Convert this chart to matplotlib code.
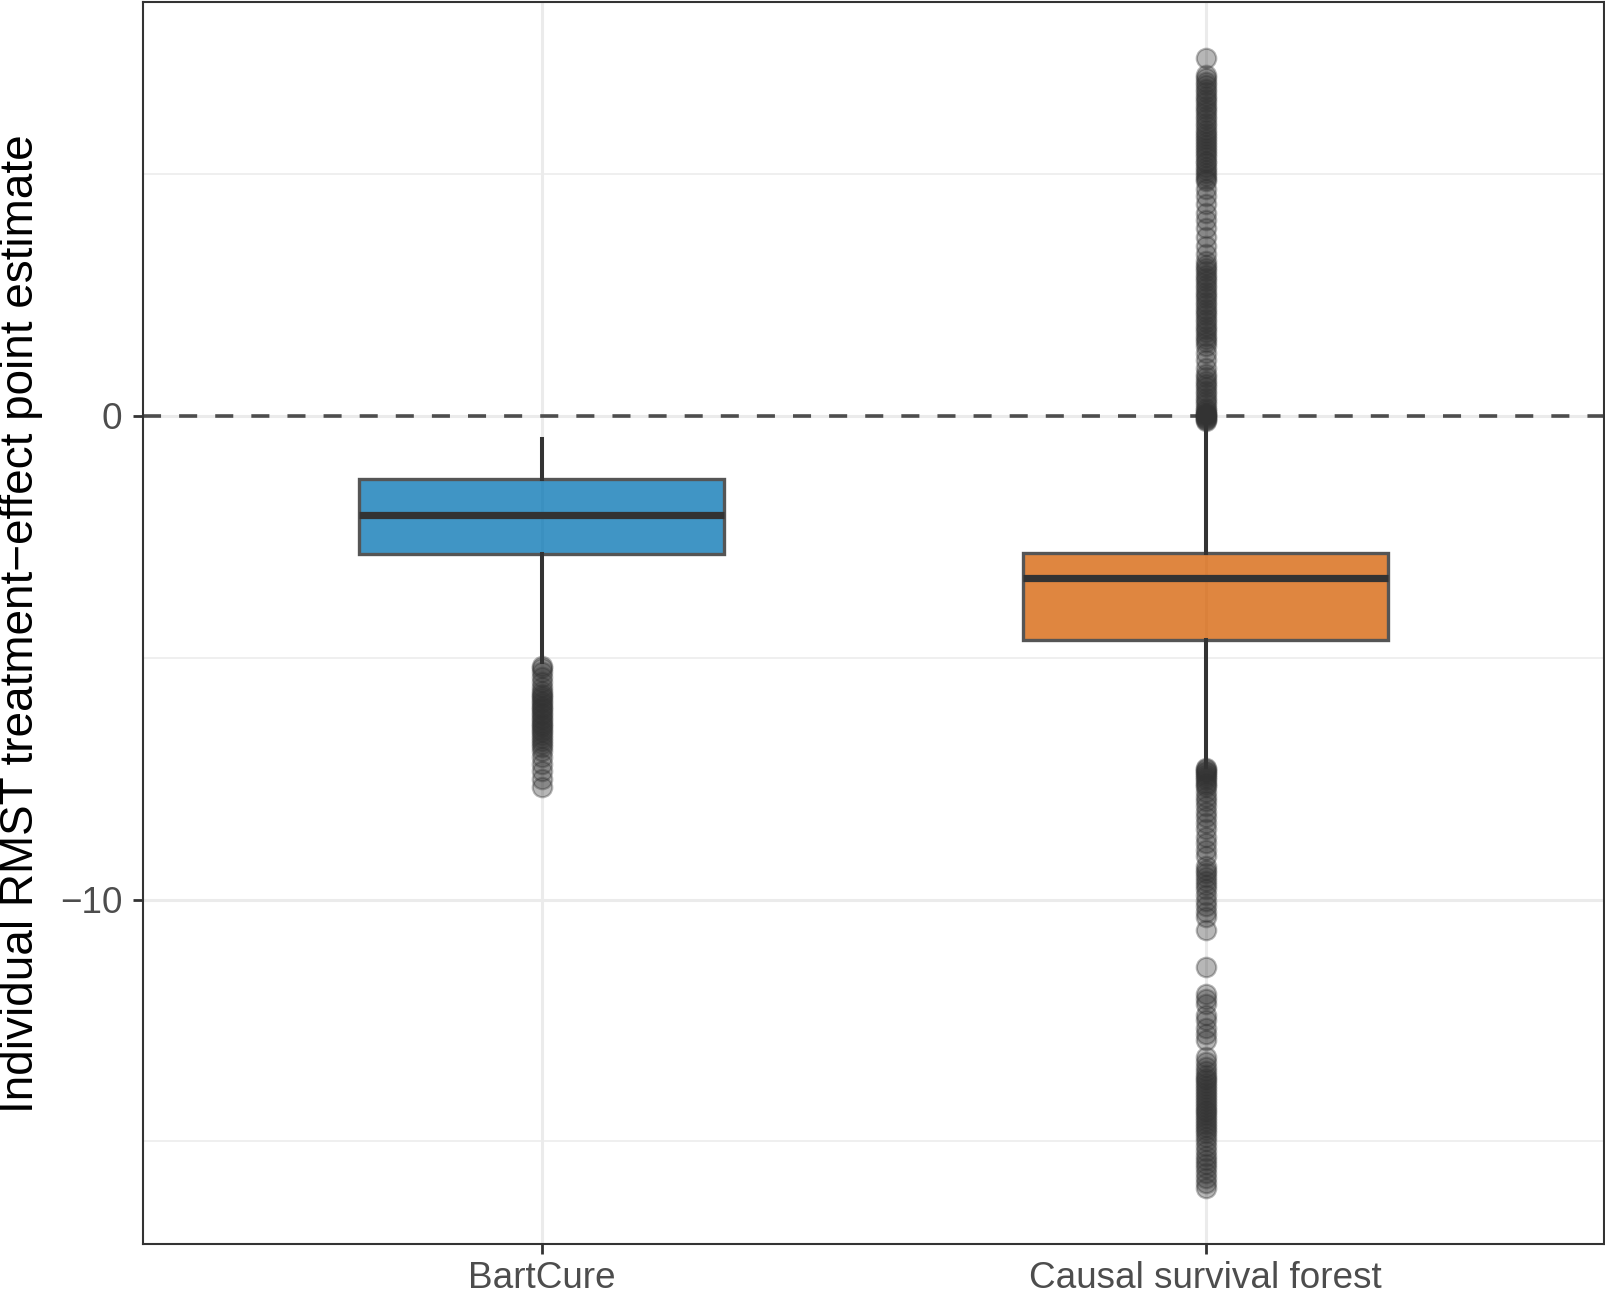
import matplotlib
matplotlib.use("Agg")
from matplotlib import pyplot as plt
from matplotlib.ticker import FixedLocator

plt.rcParams['font.family'] = ['Liberation Sans', 'DejaVu Sans']

methods = ["BartCure", "Causal survival forest"]
box_colors = ["#0072B2", "#D55E00"]

# box summaries
q1 = [-2.85, -4.63]
med = [-2.05, -3.36]
q3 = [-1.31, -2.83]
whis_lo = [-5.08, -7.25]
whis_hi = [-0.47, -0.15]

# outliers, estimated from the point columns
bart_out = [-5.16, -5.22, -5.3, -5.4, -5.5, -5.6, -5.69, -5.74, -5.79, -5.84,
            -5.89, -5.94, -5.99, -6.04, -6.09, -6.14, -6.19, -6.24, -6.29,
            -6.34, -6.39, -6.44, -6.49, -6.54, -6.6, -6.66, -6.72, -6.78,
            -6.85, -6.92, -7.05, -7.2, -7.35, -7.5, -7.67]

csf_out_hi = [7.40,
              7.05, 6.98, 6.9, 6.84, 6.77, 6.7, 6.62, 6.55, 6.49, 6.41, 6.35,
              6.28, 6.2, 6.14, 6.06, 5.99, 5.92, 5.85, 5.79, 5.72, 5.67,
              5.6, 5.54, 5.47, 5.41, 5.35, 5.28, 5.22, 5.15, 5.09, 5.02, 4.96,
              4.9, 4.85,
              4.7, 4.55, 4.38, 4.2, 4.05, 3.88, 3.7, 3.52, 3.35,
              3.2, 3.13, 3.06, 2.99, 2.92, 2.85, 2.78, 2.71, 2.64, 2.57, 2.5,
              2.43, 2.36, 2.29, 2.22, 2.15, 2.08, 2.01, 1.94, 1.87, 1.8, 1.73,
              1.66, 1.59, 1.52, 1.45,
              1.3, 1.15, 1.0,
              0.87, 0.8, 0.73, 0.66, 0.59, 0.52, 0.45, 0.38, 0.31, 0.24, 0.17,
              0.12, 0.08, 0.05, 0.03, 0.01, -0.01, -0.03, -0.05, -0.07, -0.09,
              -0.11]

csf_out_lo = [-7.28, -7.31, -7.34, -7.37, -7.4, -7.44, -7.48, -7.53, -7.58,
              -7.63, -7.68,
              -7.78, -7.88, -7.97, -8.07, -8.18, -8.3, -8.42, -8.55, -8.7,
              -8.84, -8.97, -9.1,
              -9.3, -9.38, -9.46, -9.54, -9.62, -9.7, -9.78,
              -9.9, -10.02, -10.14, -10.26, -10.36,
              -10.63, -11.39, -11.95, -12.05, -12.15, -12.39, -12.49,
              -12.66, -12.78, -12.9,
              -13.26, -13.36, -13.46, -13.55, -13.62, -13.68, -13.74, -13.8,
              -13.86, -13.92, -13.98, -14.04, -14.1, -14.16, -14.22, -14.28,
              -14.34, -14.4, -14.46, -14.52, -14.58, -14.64, -14.7, -14.76,
              -14.82, -14.9, -15.0, -15.1, -15.2, -15.3, -15.38, -15.46,
              -15.55, -15.65, -15.75, -15.85, -15.96]

fliers = [bart_out, csf_out_hi + csf_out_lo]

fig = plt.figure(figsize=(8.03, 6.47), dpi=200)
ax = fig.add_axes([0.0893, 0.0383, 0.9095, 0.9602])

stats = []
for i in range(2):
    stats.append(dict(label=methods[i], q1=q1[i], med=med[i], q3=q3[i],
                      whislo=whis_lo[i], whishi=whis_hi[i], fliers=fliers[i]))

# zero reference line
ax.axhline(0, color="#4D4D4D", linewidth=1.3, linestyle=(0, (5.0, 5.0)), zorder=1.5)

bp = ax.bxp(stats, positions=[1, 2], widths=0.55, patch_artist=True,
            showcaps=False, zorder=2,
            boxprops=dict(edgecolor="#555555", linewidth=1.2),
            whiskerprops=dict(color="#333333", linewidth=1.45),
            medianprops=dict(color="#333333", linewidth=2.6, solid_capstyle="butt"),
            flierprops=dict(marker="o", markersize=7, markerfacecolor="#333333",
                            markeredgecolor="#333333", markeredgewidth=0.8,
                            alpha=0.35))
for patch, c in zip(bp["boxes"], box_colors):
    patch.set_facecolor(matplotlib.colors.to_rgba(c, 0.75))
for fl in bp["fliers"]:
    fl.set_zorder(3)

ax.set_xlim(0.4, 2.6)
ax.set_ylim(-17.13, 8.56)
ax.set_yticks([-10, 0])
ax.yaxis.set_minor_locator(FixedLocator([-15, -5, 5]))
ax.set_xticks([1, 2])
ax.set_xticklabels(methods)

ax.set_axisbelow(True)
ax.grid(True, which="major", color="#EBEBEB", linewidth=1.1)
ax.grid(True, which="minor", axis="y", color="#EBEBEB", linewidth=0.55)

for s in ax.spines.values():
    s.set_color("#333333")
    s.set_linewidth(0.75)

ax.tick_params(which="major", length=3.6, width=1.0, color="#333333",
               labelsize=13.3, labelcolor="#4D4D4D", pad=4)
ax.tick_params(axis="x", which="major", pad=2.2)
ax.tick_params(which="minor", length=0)
ax.set_ylabel("Individual RMST treatment\u2212effect point estimate",
              fontsize=16.5, color="black", labelpad=6)

fig.savefig("out.png", dpi=200)
